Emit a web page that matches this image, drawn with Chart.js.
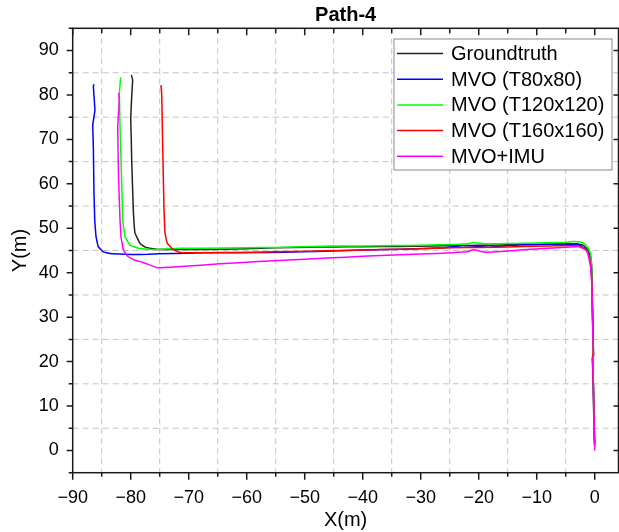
<!DOCTYPE html>
<html>
<head>
<meta charset="utf-8">
<script src="https://cdn.jsdelivr.net/npm/chart.js@4.4.1/dist/chart.umd.min.js"></script>
<style>
  html, body { margin: 0; padding: 0; background: #fff; }
</style>
</head>
<body>
<canvas id="path-chart" width="619" height="532"></canvas>
<script>
// tick values
const xTicks = [-90, -80, -70, -60, -50, -40, -30, -20, -10, 0];
const yTicks = [0, 10, 20, 30, 40, 50, 60, 70, 80, 90];

// series (metres)
const gtX = [-79.9, -79.66, -79.83, -80.0, -79.9, -79.83, -79.7, -79.55, -79.26, -78.4, -77.5, -76.67, -75.5, -74.4, -70, -67.7, -60, -55, -49.2, -45, -40, -33.9, -28, -24, -21.6, -18, -15, -12.4, -8, -5, -3.1, -2, -1.2, -0.7, -0.5, -0.45, -0.35, -0.3, -0.4, -0.25, -0.2, -0.15, -0.1, 0];
const gtY = [84.5, 83.4, 79.6, 74.7, 70, 65.4, 60, 54.1, 48.9, 46.6, 45.75, 45.5, 45.3, 45.2, 45.2, 45.2, 45.4, 45.6, 45.75, 45.8, 45.85, 45.9, 46.0, 46.1, 46.15, 46.2, 46.3, 46.35, 46.4, 46.4, 46.5, 46.2, 45.2, 43.5, 41, 35, 28, 21.5, 20.5, 15, 10, 6, 3, 1];

const t80X = [-86.33, -86.44, -86.16, -86.33, -86.55, -86.44, -86.33, -86.2, -85.98, -85.59, -84.72, -83.57, -82, -80, -77, -75, -70, -67.7, -60, -53.5, -48, -43, -36, -30.8, -26, -22.8, -21, -18.5, -15, -12.4, -8, -5, -2.8, -1.3, -0.7, -0.5, -0.4, -0.3, -0.2, -0.35, -0.2, -0.1, 0];
const t80Y = [82.4, 81.9, 76.6, 75.1, 73.2, 68.3, 57.8, 51.8, 48.1, 45.8, 44.7, 44.3, 44.2, 44.1, 44.15, 44.25, 44.4, 44.5, 44.55, 44.6, 44.8, 45.0, 45.2, 45.4, 45.6, 46.1, 46.0, 45.75, 46.1, 46.3, 46.4, 46.5, 46.35, 45.0, 42.4, 38, 32, 26, 21.5, 20.5, 12, 5, 1.5];

const t120X = [-81.73, -81.96, -81.84, -81.67, -81.5, -81.38, -80.98, -80.12, -78.69, -76.1, -71.5, -67.7, -60, -55, -49.2, -45, -40, -34.5, -30, -24.6, -22, -21, -19.5, -18.5, -15, -12.4, -8, -5, -3.75, -2.5, -1.9, -1.2, -0.7, -0.5, -0.4, -0.3, -0.35, -0.2, -0.15, -0.05];
const t120Y = [83.97, 80.4, 72.9, 65.4, 57.8, 51.8, 48.1, 46.2, 45.5, 45.2, 45.5, 45.5, 45.6, 45.7, 45.9, 46.0, 46.0, 46.1, 46.2, 46.35, 46.5, 46.8, 46.6, 46.5, 46.55, 46.65, 46.75, 46.8, 47.0, 46.9, 46.65, 45.8, 44.25, 40, 33, 26, 21, 14, 7, 2];

const t160X = [-74.78, -74.66, -74.55, -74.38, -74.26, -74.09, -73.69, -72.93, -71.8, -71, -65, -61.5, -55, -49.2, -43, -36.9, -30, -24.6, -20, -15, -12.4, -8, -5, -2.5, -1.6, -1, -0.6, -0.45, -0.3, -0.25, -0.4, -0.2, -0.1, 0];
const t160Y = [82.2, 80.4, 72.9, 61.6, 54.1, 48.9, 46.6, 45.5, 44.7, 44.5, 44.5, 44.5, 44.7, 44.85, 45.0, 45.2, 45.4, 45.6, 45.7, 45.8, 45.9, 46.0, 46.1, 45.9, 45.3, 43.9, 41, 36, 29, 22, 20.8, 14, 6, 1.5];

const imuX = [-82.1, -81.96, -82.24, -82.1, -81.84, -81.67, -81.27, -80.41, -79.26, -78.1, -75.7, -75, -70, -64.6, -58, -49.2, -43, -36.9, -30, -24.6, -22, -21, -19.5, -18.5, -15, -12.4, -8, -5, -2.8, -1.3, -0.7, -0.5, -0.4, -0.3, -0.2, -0.35, -0.25, -0.15, -0.05, 0];
const imuY = [80.4, 78.9, 72.9, 61.6, 51.8, 48.1, 45.1, 43.6, 42.8, 42.4, 41.25, 41.1, 41.5, 42.0, 42.5, 43.1, 43.5, 43.9, 44.2, 44.5, 44.7, 45.15, 44.8, 44.6, 44.9, 45.15, 45.5, 45.75, 45.9, 45.0, 41.25, 37, 31, 25, 21.5, 20.5, 15.5, 8, 3, 0];

const toPoints = (xs, ys) => xs.map((x, i) => ({ x: x, y: ys[i] }));
const fmt = v => v < 0 ? '\u2212' + Math.abs(v) : String(v);

// small tension keeps Chart.js off its fast path, which merges points sharing an x pixel
const makeSet = (label, xs, ys, color, order) => ({
  label: label,
  data: toPoints(xs, ys),
  showLine: true,
  borderColor: color,
  backgroundColor: color,
  borderWidth: 1.5,
  pointRadius: 0,
  tension: 0.05,
  order: order,
});

// dashed grid on the half steps, frame and tick marks
const framePlugin = {
  id: 'frame',
  beforeDatasetsDraw(chart) {
    const { ctx, chartArea: a, scales: { x, y } } = chart;
    ctx.save();
    ctx.strokeStyle = '#c4c4c4';
    ctx.lineWidth = 1;
    ctx.setLineDash([6, 4]);
    for (let v = -85; v < 4; v += 10) {
      const px = x.getPixelForValue(v);
      ctx.beginPath(); ctx.moveTo(px, a.top); ctx.lineTo(px, a.bottom); ctx.stroke();
    }
    for (let v = 5; v < 95; v += 10) {
      const py = y.getPixelForValue(v);
      ctx.beginPath(); ctx.moveTo(a.left, py); ctx.lineTo(a.right, py); ctx.stroke();
    }
    ctx.restore();
  },
  afterDatasetsDraw(chart) {
    const { ctx, chartArea: a, scales: { x, y } } = chart;
    ctx.save();
    ctx.strokeStyle = '#1a1a1a';
    ctx.lineWidth = 1.5;
    ctx.strokeRect(a.left, a.top, a.right - a.left, a.bottom - a.top);
    ctx.beginPath();
    for (let v = -90; v <= 0; v += 5) {
      const px = x.getPixelForValue(v);
      const major = v % 10 === 0;
      ctx.moveTo(px, a.bottom); ctx.lineTo(px, a.bottom + (major ? 7 : 4));
      ctx.moveTo(px, a.top); ctx.lineTo(px, a.top + (major ? 7 : 5));
    }
    for (let v = -5; v <= 95; v += 5) {
      const py = y.getPixelForValue(v);
      const major = v % 10 === 0;
      ctx.moveTo(a.left, py); ctx.lineTo(a.left - (major ? 6 : 4), py);
      if (major) { ctx.moveTo(a.right, py); ctx.lineTo(a.right - 5, py); }
    }
    ctx.stroke();
    ctx.restore();
  },
  afterDraw(chart) {
    const { ctx } = chart;
    const box = { left: 394, top: 39, right: 612, bottom: 170 };
    ctx.save();
    ctx.fillStyle = '#fff';
    ctx.fillRect(box.left, box.top, box.right - box.left, box.bottom - box.top);
    ctx.strokeStyle = '#8a8a8a';
    ctx.lineWidth = 1;
    ctx.strokeRect(box.left, box.top, box.right - box.left, box.bottom - box.top);
    ctx.font = '20px "Liberation Sans", Arial, sans-serif';
    ctx.textBaseline = 'middle';
    ctx.fillStyle = '#000';
    chart.data.datasets.forEach((ds, i) => {
      const cy = 53.5 + i * 25.7;
      ctx.strokeStyle = ds.borderColor;
      ctx.lineWidth = 1.5;
      ctx.beginPath(); ctx.moveTo(397, cy); ctx.lineTo(443, cy); ctx.stroke();
      ctx.fillText(ds.label, 451, cy + 1);
    });
    ctx.restore();
  }
};

const tickFont = { family: '"Liberation Sans", Arial, sans-serif', size: 18 };
const titleFont = { family: '"Liberation Sans", Arial, sans-serif', size: 20 };

new Chart(document.getElementById('path-chart'), {
  type: 'scatter',
  data: {
    datasets: [
      makeSet('Groundtruth', gtX, gtY, '#222222', 5),
      makeSet('MVO (T80x80)', t80X, t80Y, '#0000ff', 4),
      makeSet('MVO (T120x120)', t120X, t120Y, '#00ff00', 3),
      makeSet('MVO (T160x160)', t160X, t160Y, '#ff0000', 2),
      makeSet('MVO+IMU', imuX, imuY, '#ff00ff', 1),
    ],
  },
  options: {
    responsive: false,
    animation: false,
    devicePixelRatio: 1,
    layout: { padding: { left: 0, right: 0.5, top: 0, bottom: 0 } },
    plugins: {
      legend: { display: false },
      tooltip: { enabled: false },
      title: {
        display: true,
        text: 'Path-4',
        fullSize: false,
        color: '#000',
        font: { family: '"Liberation Sans", Arial, sans-serif', size: 20, weight: 'bold' },
        padding: { top: 3.5, bottom: 0.8 },
      },
    },
    scales: {
      x: {
        type: 'linear',
        position: 'bottom',
        min: -90,
        max: 4.1,
        grid: { display: false, drawTicks: false },
        border: { display: false },
        afterBuildTicks: s => { s.ticks = xTicks.map(v => ({ value: v })); },
        afterFit: s => { s.height = 59.3; },
        ticks: { color: '#000', font: tickFont, padding: 15, maxRotation: 0, callback: fmt },
        title: { display: true, text: 'X(m)', color: '#000', font: titleFont, padding: { top: 0, bottom: 0 } },
      },
      y: {
        type: 'linear',
        position: 'left',
        min: -5,
        max: 95,
        grid: { display: false, drawTicks: false },
        border: { display: false },
        afterBuildTicks: s => { s.ticks = yTicks.map(v => ({ value: v })); },
        afterFit: s => { s.width = 72.7; },
        ticks: { color: '#000', font: tickFont, padding: 14, callback: fmt },
        title: { display: true, text: 'Y(m)', color: '#000', font: titleFont, padding: { top: 8, bottom: 0 } },
      },
    },
  },
  plugins: [framePlugin],
});
</script>
</body>
</html>
